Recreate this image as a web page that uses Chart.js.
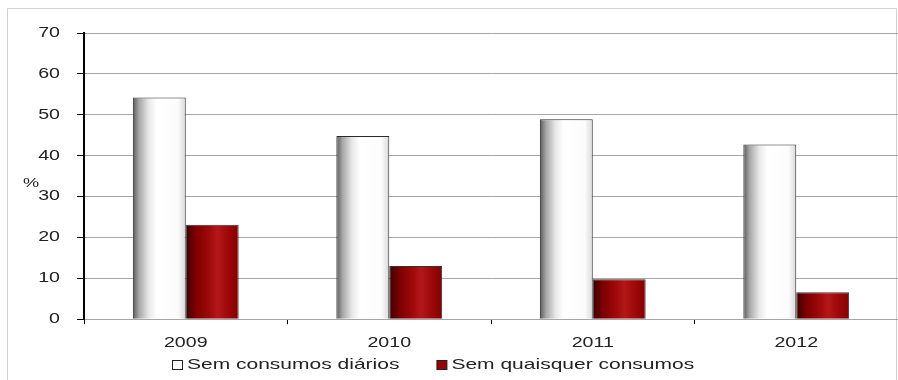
<!DOCTYPE html>
<html>
<head>
<meta charset="utf-8">
<script src="https://cdn.jsdelivr.net/npm/chart.js@4.4.0/dist/chart.umd.min.js"></script>
<style>
  html, body { margin: 0; padding: 0; background: #fff; }
  #wrap { width: 898px; height: 380px; }
</style>
</head>
<body>
<div id="wrap"><canvas id="chart" width="898" height="380"></canvas></div>
<script>
const years = ['2009', '2010', '2011', '2012'];
const semConsumosDiarios = [54.2, 44.8, 48.9, 42.7];
const semQuaisquerConsumos = [23.1, 13.0, 9.8, 6.6];
const yTicks = [0, 10, 20, 30, 40, 50, 60, 70];

// horizontal shading of the "cylinder" bars
const whiteStops = [[0, '#5a5a5a'], [0.12, '#a8a8a8'], [0.3, '#e8e8e8'], [0.45, '#ffffff'], [0.85, '#fcfcfc'], [1, '#d8d8d8']];
const redStops = [[0, '#3c0000'], [0.2, '#7e0000'], [0.45, '#a00a0a'], [0.6, '#b31818'], [0.8, '#9e0808'], [1, '#860000']];

const fontFamily = '"Liberation Sans", Arial, sans-serif';
const textColor = '#222';
const stretch = 1.4; // the original's text is drawn horizontally stretched

Chart.defaults.font.family = fontFamily;
Chart.defaults.color = textColor;

const canvas = document.getElementById('chart');
const c2d = canvas.getContext('2d');
const fill = c2d.fillText.bind(c2d);
const measure = c2d.measureText.bind(c2d);
c2d.fillText = function (text, x, y) {
    this.save();
    this.translate(x, y);
    this.scale(stretch, 1);
    fill(text, 0, 0);
    this.restore();
};
c2d.measureText = function (text) {
    const m = measure(text);
    return {
        width: m.width * stretch,
        actualBoundingBoxLeft: m.actualBoundingBoxLeft * stretch,
        actualBoundingBoxRight: m.actualBoundingBoxRight * stretch,
        actualBoundingBoxAscent: m.actualBoundingBoxAscent,
        actualBoundingBoxDescent: m.actualBoundingBoxDescent,
        fontBoundingBoxAscent: m.fontBoundingBoxAscent,
        fontBoundingBoxDescent: m.fontBoundingBoxDescent
    };
};

const frame = {
    id: 'frame',
    beforeDraw(chart) {
        const ctx = chart.ctx;
        ctx.save();
        ctx.strokeStyle = '#d2d2d2';
        ctx.lineWidth = 1;
        ctx.beginPath();
        ctx.moveTo(7.5, chart.height);
        ctx.lineTo(7.5, 8.5);
        ctx.lineTo(896.5, 8.5);
        ctx.lineTo(896.5, chart.height);
        ctx.stroke();
        ctx.restore();
    },
    afterDraw(chart) {
        const ctx = chart.ctx;
        const y = chart.scales.y;
        ctx.save();
        ctx.font = '13px ' + fontFamily;
        ctx.fillStyle = textColor;
        ctx.textAlign = 'center';
        ctx.textBaseline = 'middle';
        ctx.fillText('%', chart.chartArea.left - 53, y.getPixelForValue(33.3));
        ctx.restore();
    }
};

// legend drawn under the axis labels, square markers
const bottomLegend = {
    id: 'bottomLegend',
    afterDraw(chart) {
        const ctx = chart.ctx;
        ctx.save();
        ctx.font = '15px ' + fontFamily;
        ctx.textBaseline = 'middle';
        ctx.textAlign = 'left';
        const sets = chart.data.datasets;
        const widths = sets.map(ds => 15 + ctx.measureText(ds.label).width);
        const gap = 37;
        const total = widths.reduce((a, b) => a + b, 0) + gap * (sets.length - 1);
        let x = Math.round(433 - total / 2);
        const y = 365;
        sets.forEach((ds, i) => {
            ctx.fillStyle = ds.legendColor;
            ctx.strokeStyle = '#222';
            ctx.lineWidth = 1;
            ctx.fillRect(x + 0.5, y - 4.5, 10, 9);
            ctx.strokeRect(x + 0.5, y - 4.5, 10, 9);
            ctx.fillStyle = textColor;
            ctx.fillText(ds.label, x + 15, y);
            x += widths[i] + gap;
        });
        ctx.restore();
    }
};

const shading = {
    id: 'shading',
    beforeDatasetsDraw(chart) {
        const ctx = chart.ctx;
        chart.data.datasets.forEach((ds, i) => {
            chart.getDatasetMeta(i).data.forEach(bar => {
                const {x, width} = bar.getProps(['x', 'width'], true);
                const g = ctx.createLinearGradient(x - width / 2, 0, x + width / 2, 0);
                ds.stops.forEach(([o, c]) => g.addColorStop(o, c));
                bar.options.backgroundColor = g;
            });
        });
    }
};

new Chart(canvas, {
    type: 'bar',
    data: {
        labels: years,
        datasets: [{
            label: 'Sem consumos diários',
            data: semConsumosDiarios,
            backgroundColor: () => '#ffffff',
            legendColor: '#ffffff',
            borderColor: '#2a2a2a',
            borderWidth: 1,
            stops: whiteStops
        }, {
            label: 'Sem quaisquer consumos',
            data: semQuaisquerConsumos,
            backgroundColor: () => '#8b0000',
            legendColor: '#9a0000',
            borderColor: '#333333',
            borderWidth: 1,
            stops: redStops
        }]
    },
    options: {
        responsive: false,
        devicePixelRatio: 1,
        animation: false,
        datasets: { bar: { categoryPercentage: 0.52, barPercentage: 1 } },
        layout: { padding: { top: 33, left: 0, right: 0, bottom: 17 } },
        scales: {
            x: {
                grid: { drawOnChartArea: false, tickLength: 5, tickColor: '#000' },
                border: { color: '#a6a6a6', width: 1 },
                ticks: { padding: 11, font: { size: 14 } }
            },
            y: {
                min: 0,
                max: 70,
                afterBuildTicks: s => { s.ticks = yTicks.map(v => ({ value: v })); },
                grid: { color: '#a6a6a6', lineWidth: 1, tickColor: '#000', tickLength: 7 },
                border: { color: '#000', width: 2 },
                ticks: { padding: 17, font: { size: 14 } },
                afterFit: s => { s.width = 84; }
            }
        },
        plugins: {
            legend: { display: false },
            tooltip: { enabled: false }
        }
    },
    plugins: [frame, shading, bottomLegend]
});
</script>
</body>
</html>
